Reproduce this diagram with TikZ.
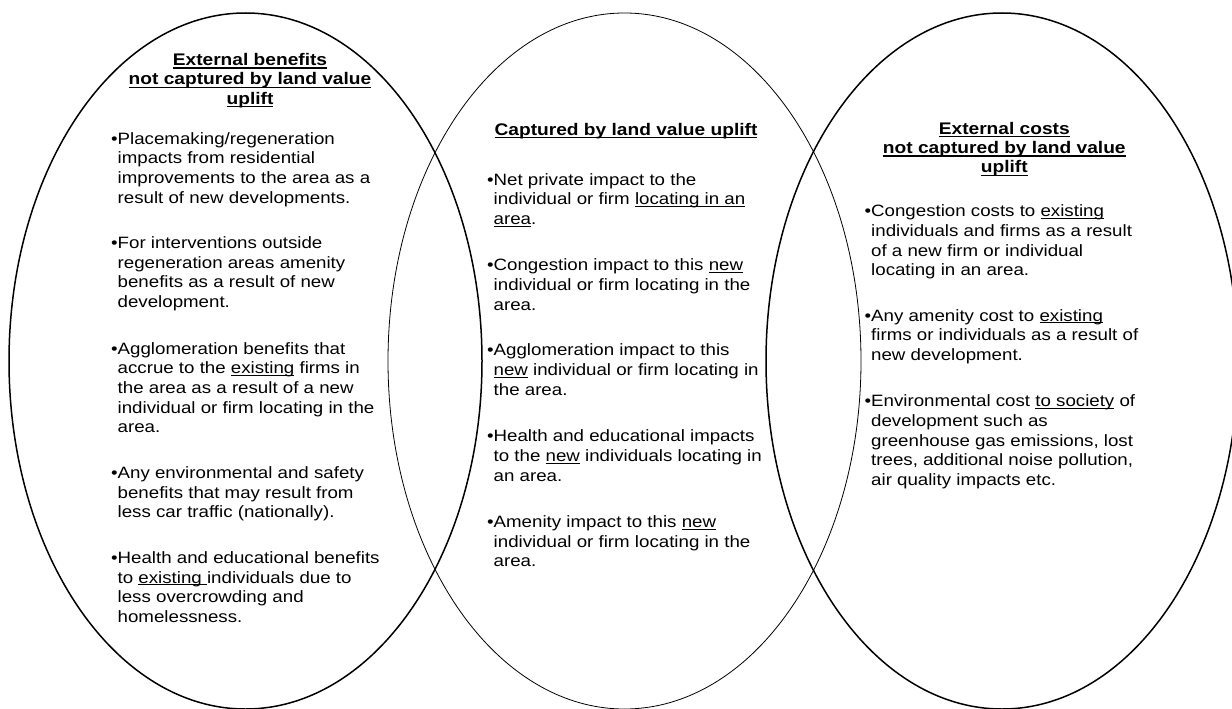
\documentclass[tikz,border=0pt]{standalone}
\usepackage{fontspec}
\setmainfont{Liberation Sans}[FakeStretch=1.14]
\newsavebox\myulbox
\newcommand\myul[1]{\sbox\myulbox{#1}\rlap{\rule[-2.2pt]{\wd\myulbox}{0.9pt}}\usebox\myulbox}
\newcommand\myulh[1]{\sbox\myulbox{#1}\rlap{\rule[-3pt]{\wd\myulbox}{1.3pt}}\usebox\myulbox}
\newcommand\bul{\llap{•}}
\tikzset{
  ring/.style={draw=black, line width=1.5pt},
  thinring/.style={draw=black, line width=0.8pt},
  para/.style={anchor=base west, inner sep=0pt, font=\fontsize{16.4}{19.7}\selectfont},
  head/.style={anchor=base, inner sep=0pt, font=\bfseries\fontsize{16.8}{19.3}\selectfont},
}
\begin{document}
\begin{tikzpicture}[x=1pt,y=-1pt]
\useasboundingbox (0,0) rectangle (1232,709);
\path[fill=white] (0,0) rectangle (1232,709);
% circles
\draw[ring] (245.5,361) ellipse [x radius=236.5pt, y radius=348pt];
\draw[thinring] (624.5,361) ellipse [x radius=236.5pt, y radius=348pt];
\draw[ring] (1002,361) ellipse [x radius=236pt, y radius=348pt];

% left column
\node[head] (lh) at (250,65.7) {\begin{tabular}[t]{@{}c@{}}\myulh{External benefits}\\ \myulh{not captured by land value}\\ \myulh{uplift}\end{tabular}};
\node[para] (l1) at (117.5,144) {\begin{tabular}[t]{@{}l@{}}\bul Placemaking/regeneration\\ impacts from residential\\ improvements to the area as a\\ result of new developments.\end{tabular}};
\node[para] (l2) at (117.5,248.3) {\begin{tabular}[t]{@{}l@{}}\bul For interventions outside\\ regeneration areas amenity\\ benefits as a result of new\\ development.\end{tabular}};
\node[para] (l3) at (117.5,354) {\begin{tabular}[t]{@{}l@{}}\bul Agglomeration benefits that\\ accrue to the \myul{existing} firms in\\ the area as a result of a new\\ individual or firm locating in the\\ area.\end{tabular}};
\node[para] (l4) at (117.5,478.3) {\begin{tabular}[t]{@{}l@{}}\bul Any environmental and safety\\ benefits that may result from\\ less car traffic (nationally).\end{tabular}};
\node[para] (l5) at (117.5,563.3) {\begin{tabular}[t]{@{}l@{}}\bul Health and educational benefits\\ to \myul{existing\ }individuals due to\\ less overcrowding and\\ homelessness.\end{tabular}};

% middle column
\node[head] (mh) at (626,135) {\myulh{Captured by land value uplift}};
\node[para] (m1) at (493.5,185) {\begin{tabular}[t]{@{}l@{}}\bul Net private impact to the\\ individual or firm \myul{locating in an}\\ \myul{area}.\end{tabular}};
\node[para] (m2) at (493.5,270.7) {\begin{tabular}[t]{@{}l@{}}\bul Congestion impact to this \myul{new}\\ individual or firm locating in the\\ area.\end{tabular}};
\node[para] (m3) at (493.5,355.7) {\begin{tabular}[t]{@{}l@{}}\bul Agglomeration impact to this\\ \myul{new} individual or firm locating in\\ the area.\end{tabular}};
\node[para] (m4) at (493.5,441.7) {\begin{tabular}[t]{@{}l@{}}\bul Health and educational impacts\\ to the \myul{new} individuals locating in\\ an area.\end{tabular}};
\node[para] (m5) at (493.5,527.3) {\begin{tabular}[t]{@{}l@{}}\bul Amenity impact to this \myul{new}\\ individual or firm locating in the\\ area.\end{tabular}};

% right column
\node[head] (rh) at (1004.3,134.3) {\begin{tabular}[t]{@{}c@{}}\myulh{External costs}\\ \myulh{not captured by land value}\\ \myulh{uplift}\end{tabular}};
\node[para] (r1) at (871,216.7) {\begin{tabular}[t]{@{}l@{}}\bul Congestion costs to \myul{existing}\\ individuals and firms as a result\\ of a new firm or individual\\ locating in an area.\end{tabular}};
\node[para] (r2) at (871,321) {\begin{tabular}[t]{@{}l@{}}\bul Any amenity cost to \myul{existing}\\ firms or individuals as a result of\\ new development.\end{tabular}};
\node[para] (r3) at (871,406.7) {\begin{tabular}[t]{@{}l@{}}\bul Environmental cost \myul{to society} of\\ development such as\\ greenhouse gas emissions, lost\\ trees, additional noise pollution,\\ air quality impacts etc.\end{tabular}};
\end{tikzpicture}
\end{document}
